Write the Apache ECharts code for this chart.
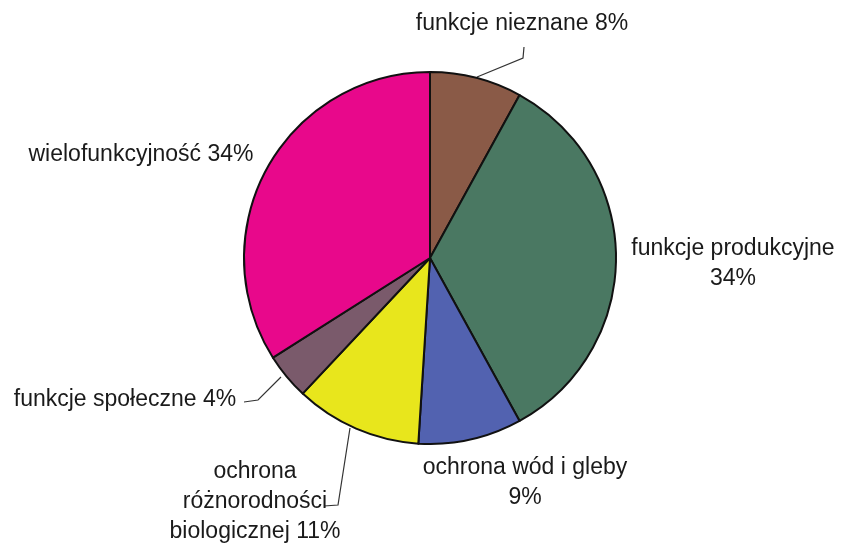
<!DOCTYPE html>
<html>
<head>
<meta charset="utf-8">
<script src="https://cdn.jsdelivr.net/npm/echarts@6/dist/echarts.min.js"></script>
<style>
  html, body { margin: 0; padding: 0; background: #fff; }
  #pieChart { width: 842px; height: 544px; }
</style>
</head>
<body>
<div id="pieChart"></div>
<script>
// dane (udział w %)
var categories = ['funkcje nieznane', 'funkcje produkcyjne', 'ochrona wód i gleby',
  'ochrona różnorodności biologicznej', 'funkcje społeczne', 'wielofunkcyjność'];
var values = [8, 34, 9, 11, 4, 34];
var colors = ['#8a5a47', '#4a7862', '#5262b0', '#e8e61c', '#7a5a6b', '#e8088b'];
// tekst etykiet (podział na linie jak w oryginale)
var labelTexts = ['funkcje nieznane {d}%', 'funkcje produkcyjne\n{d}%', 'ochrona wód i gleby\n{d}%',
  'ochrona\nróżnorodności\nbiologicznej {d}%', 'funkcje społeczne {d}%', 'wielofunkcyjność {d}%'];

// położenie etykiet i linii odniesienia
var labelPos = [[522, 24], [733, 264], [525, 483], [255, 502], [125, 400], [141, 155]];
var leaderLines = [
  [[477, 77], [523, 58], [524, 47]],
  null,
  null,
  [[350, 428], [338, 505], [324, 506]],
  [[281, 377], [258, 400], [244, 402]],
  null
];

var myChart = echarts.init(document.getElementById('pieChart'));

var option = {
  animation: false,
  backgroundColor: '#fff',
  series: [
    {
      type: 'pie',
      center: [430, 258],
      radius: 186,
      startAngle: 90,
      clockwise: true,
      percentPrecision: 0,
      itemStyle: {
        borderColor: '#111',
        borderWidth: 2
      },
      label: {
        show: true,
        position: 'outside',
        color: '#1a1a1a',
        fontFamily: 'Liberation Sans, Arial, sans-serif',
        fontSize: 23,
        lineHeight: 30,
        align: 'center',
        overflow: 'none',
        width: 300
      },
      labelLine: {
        show: true,
        lineStyle: { color: '#333', width: 1.2 }
      },
      labelLayout: function (params) {
        var i = params.dataIndex;
        var res = {
          x: labelPos[i][0],
          y: labelPos[i][1],
          align: 'center',
          verticalAlign: 'middle',
          width: 300
        };
        if (leaderLines[i]) res.labelLinePoints = leaderLines[i];
        return res;
      },
      data: categories.map(function (name, i) {
        return {
          name: name,
          value: values[i],
          itemStyle: { color: colors[i] },
          label: { formatter: labelTexts[i] },
          labelLine: { show: !!leaderLines[i] }
        };
      })
    }
  ]
};

myChart.setOption(option);
window.addEventListener('resize', function () {
  myChart.resize();
});
</script>
</body>
</html>
